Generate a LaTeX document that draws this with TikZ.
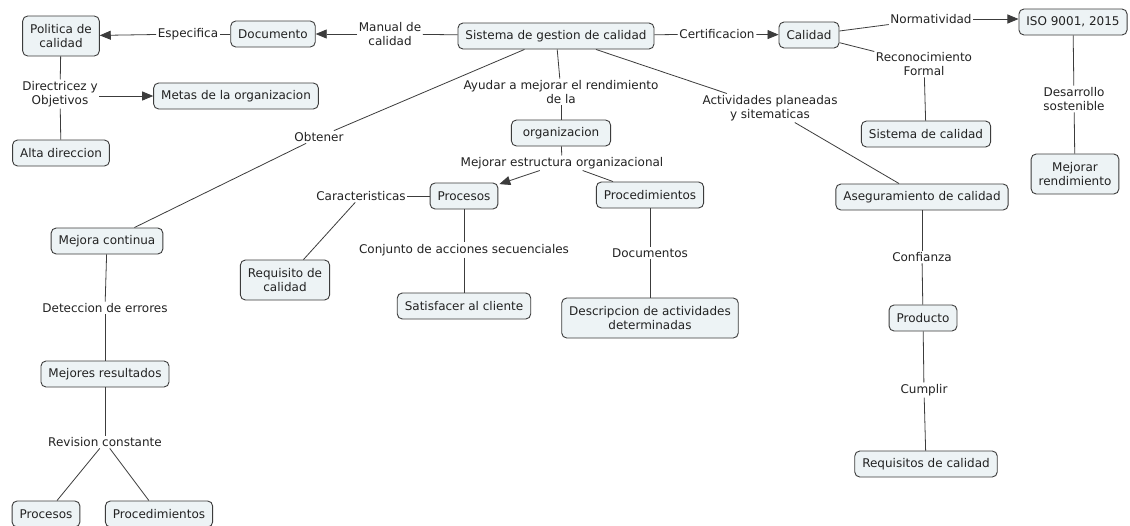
\documentclass[tikz,border=0pt]{standalone}
\usepackage{fontspec}
\setmainfont{DejaVu Sans}
\usetikzlibrary{arrows.meta}
\definecolor{nodefill}{HTML}{EDF3F5}
\definecolor{edge}{HTML}{3C3C3C}
\definecolor{ink}{HTML}{222222}

\begin{document}
\begin{tikzpicture}[x=1pt,y=-1pt,
  every node/.style={font=\fontsize{12}{14}\selectfont, text=ink},
  concept/.style={draw=edge, line width=0.9pt, fill=nodefill, rounded corners=5pt,
    inner xsep=7.5pt, inner ysep=0pt, minimum height=26pt, align=center},
  tall/.style={minimum height=40pt},
  link/.style={inner sep=1.5pt, align=center},
  conn/.style={draw=edge, line width=0.8pt},
  arr/.style={conn, -{Triangle[length=11pt,width=9pt]}},
]
\useasboundingbox (0,0) rectangle (1130,525);
\fill[white] (0,0) rectangle (1130,525);

% concepts
\node[concept, tall] (politica) at (61,36) {Politica de\\calidad};
\node[concept] (doc) at (273,34) {Documento};
\node[concept] (sgc) at (556,36) {Sistema de gestion de calidad};
\node[concept] (calidad) at (809,35) {Calidad};
\node[concept] (iso) at (1073,22) {ISO 9001, 2015};
\node[concept] (metas) at (236,96) {Metas de la organizacion};
\node[concept] (alta) at (61,153) {Alta direccion};
\node[concept] (org) at (561,133) {\ organizacion\ };
\node[concept] (sistcal) at (926,134) {Sistema de calidad};
\node[concept, tall] (mejrend) at (1075,174) {Mejorar\\rendimiento};
\node[concept] (aseg) at (922,197) {Aseguramiento de calidad};
\node[concept] (procesos) at (464,196) {Procesos};
\node[concept] (procedimientos) at (650,195) {Procedimientos};
\node[concept] (mejcont) at (107,241) {Mejora continua};
\node[concept, tall] (reqcal) at (285,280) {Requisito de\\calidad};
\node[concept] (satisf) at (464,306) {Satisfacer al cliente};
\node[concept, tall] (descr) at (650,318) {Descripcion de actividades\\determinadas};
\node[concept] (producto) at (923,318) {Producto};
\node[concept] (reqsdecal) at (926,464) {Requisitos de calidad};
\node[concept] (mejres) at (105,374) {Mejores resultados};
\node[concept] (procesosb) at (46,514) {Procesos};
\node[concept] (procedb) at (159,514) {Procedimientos};

% linking phrases
\node[link] (especifica) at (188,34) {Especifica};
\node[link] (manual) at (390,34) {Manual de\\calidad};
\node[link] (certificacion) at (717,34) {Certificacion};
\node[link] (normatividad) at (931,19) {Normatividad};
\node[link] (reconocimiento) at (924,64) {Reconocimiento\\Formal};
\node[link] (directricez) at (60,94) {Directricez y\\Objetivos};
\node[link] (obtener) at (319,137) {Obtener};
\node[link] (ayudar) at (561,92) {Ayudar a mejorar el rendimiento\\de la};
\node[link] (actividades) at (770,108) {Actividades planeadas\\y sitematicas};
\node[link] (desarrollo) at (1074,99) {Desarrollo\\sostenible};
\node[link] (estructura) at (562,163) {Mejorar estructura organizacional};
\node[link] (caract) at (361,196) {Caracteristicas};
\node[link] (conjunto) at (464,250) {Conjunto de acciones secuenciales};
\node[link] (documentos) at (650,253) {Documentos};
\node[link] (confianza) at (922,257) {Confianza};
\node[link] (cumplir) at (924,390) {Cumplir};
\node[link] (deteccion) at (105,308) {Deteccion de errores};
\node[link] (revision) at (105,442) {Revision constante};

% connectors
\draw[conn] (sgc) -- (manual);
\draw[arr] (manual) -- (doc);
\draw[conn] (doc) -- (especifica);
\draw[arr] (especifica) -- (politica);
\draw[conn] (politica) -- (directricez);
\draw[arr] (directricez.east |- metas) -- (metas);
\draw[conn] (directricez) -- (alta);

\draw[conn] (sgc) -- (certificacion);
\draw[arr] (certificacion) -- (calidad);
\draw[conn] (calidad) -- (normatividad);
\draw[arr] (normatividad.east) -- (iso.west |- normatividad.east);
\draw[conn] (calidad) -- (reconocimiento);
\draw[conn] (reconocimiento) -- (sistcal);
\draw[conn] (iso) -- (desarrollo);
\draw[conn] (desarrollo) -- (mejrend);

\draw[conn] (sgc) -- (obtener);
\draw[conn] (obtener) -- (mejcont);
\draw[conn] (sgc) -- (ayudar);
\draw[conn] (ayudar) -- (org);
\draw[conn] (sgc) -- (actividades);
\draw[conn] (actividades) -- (aseg);

\draw[conn] (org) -- (estructura);
\draw[arr, shorten >=1pt] (estructura) -- (procesos);
\draw[conn] (estructura) -- (procedimientos);
\draw[conn] (procesos) -- (caract);
\draw[conn] (caract) -- (reqcal);
\draw[conn] (procesos) -- (conjunto);
\draw[conn] (conjunto) -- (satisf);
\draw[conn] (procedimientos) -- (documentos);
\draw[conn] (documentos) -- (descr);

\draw[conn] (aseg) -- (confianza);
\draw[conn] (confianza) -- (producto);
\draw[conn] (producto) -- (cumplir);
\draw[conn] (cumplir) -- (reqsdecal);

\draw[conn] (mejcont) -- (deteccion);
\draw[conn] (deteccion) -- (mejres);
\draw[conn] (mejres) -- (revision);
\draw[conn] (revision) -- (procesosb);
\draw[conn] (revision) -- (procedb);
\end{tikzpicture}
\end{document}
